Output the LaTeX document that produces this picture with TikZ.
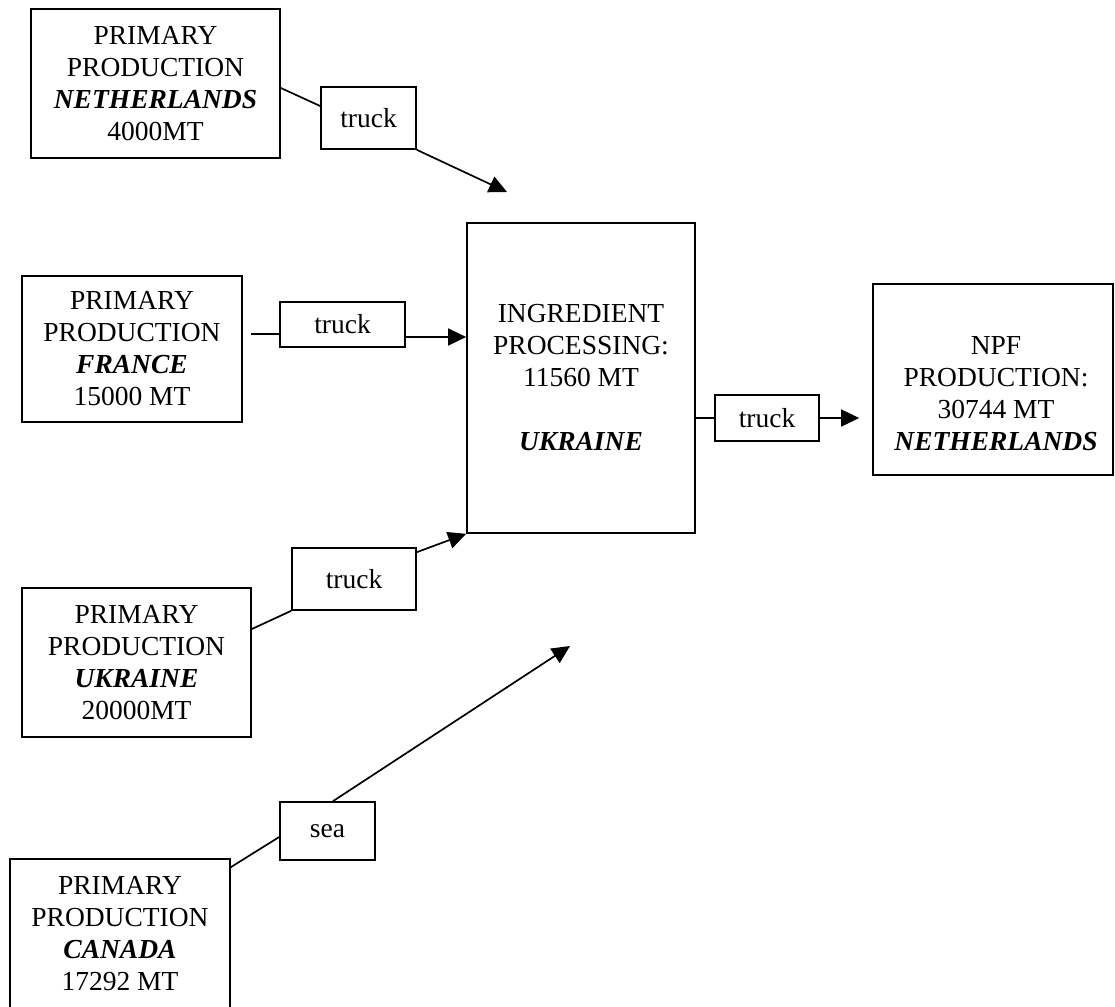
\documentclass[tikz,border=0pt]{standalone}
\usepackage{fontspec}
\setmainfont{Liberation Serif}
\usetikzlibrary{arrows.meta}
\newcommand\ctry[1]{\textbf{\textit{#1}}}
\begin{document}
\begin{tikzpicture}[x=1pt,y=-1pt,
  every node/.style={font=\fontsize{27.5}{32}\selectfont},
  box/.style={draw, line width=1.7pt, inner sep=0pt, align=center},
  label text/.style={inner sep=0pt, align=center},
  link/.style={line width=1.7pt},
  arr/.style={line width=1.7pt, -{Triangle[length=18pt,width=17pt]}}]
\useasboundingbox (0,0) rectangle (1115,1006);

% primary production sites
\node[box, minimum width=249pt, minimum height=149pt] (nl) at (155.5,83.5)
  {PRIMARY\\PRODUCTION\\\ctry{NETHERLANDS}\\4000MT};
\node[box, minimum width=220pt, minimum height=146pt] (fr) at (132,349)
  {PRIMARY\\PRODUCTION\\\ctry{FRANCE}\\15000 MT};
\node[box, minimum width=229pt, minimum height=149pt] (uk) at (136.5,662.5)
  {PRIMARY\\PRODUCTION\\\ctry{UKRAINE}\\20000MT};
\node[box, minimum width=220pt, minimum height=149pt] (ca) at (120,933.5)
  {PRIMARY\\PRODUCTION\\\ctry{CANADA}\\17292 MT};

% processing and final production
\node[box, minimum width=228pt, minimum height=310pt] (ing) at (581,378)
  {INGREDIENT\\PROCESSING:\\11560 MT\\[32pt]\ctry{UKRAINE}};
\node[box, minimum width=240pt, minimum height=191pt] (npf) at (993,379.5) {};
\node[label text] (npftext) at (996,393.5)
  {NPF\\PRODUCTION:\\30744 MT\\\ctry{NETHERLANDS}};

% transport modes
\node[box, minimum width=95pt,  minimum height=62pt] (t1) at (368.5,118) {truck};
\node[box, minimum width=125pt, minimum height=45pt] (t2) at (342.5,324.5) {truck};
\node[box, minimum width=104pt, minimum height=46pt] (t3) at (767,418) {truck};
\node[box, minimum width=124pt, minimum height=62pt] (t4) at (354,579) {truck};
\node[box, minimum width=95pt,  minimum height=58pt] (sea) at (327.5,831) {sea};

% loose arrow ends
\coordinate (nlend) at (507,192);
\coordinate (seaend) at (570,646);

% flows
\draw[link] ([yshift=-4.5pt]nl.east) -- ([yshift=12pt]t1.west);
\draw[arr] (t1.south east) -- (nlend);

\draw[link] ([xshift=8pt,yshift=15pt]fr.east) -- ([yshift=-9.5pt]t2.west);
\draw[arr] ([yshift=-12.5pt]t2.east) -- ([yshift=-12.5pt]t2.east -| ing.west);

\draw[link] ([yshift=33.5pt]uk.east) -- (t4.south west);
\draw[arr] ([yshift=-5pt]t4.north east) -- (ing.south west);

\draw[link] ([yshift=-9pt]ca.north east) -- ([yshift=-6pt]sea.west);
\draw[arr] ([xshift=5.5pt]sea.north) -- (seaend);

\draw[link] (ing.east |- t3.west) -- (t3.west);
\draw[arr, shorten >=13pt] (t3.east) -- (t3.east -| npf.west);
\end{tikzpicture}
\end{document}
